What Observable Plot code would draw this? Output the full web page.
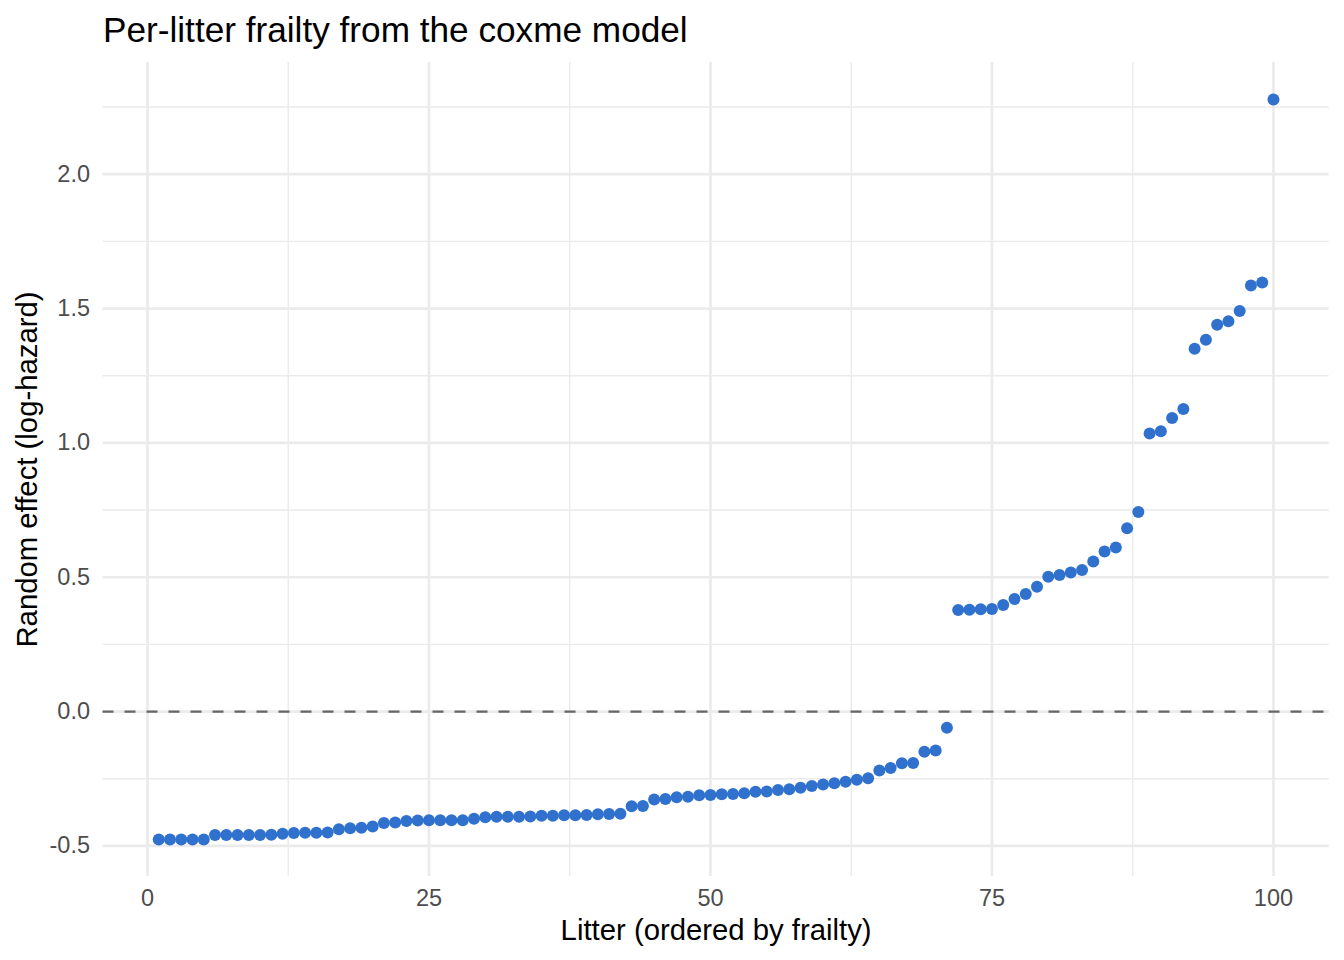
<!DOCTYPE html>
<html>
<head>
<meta charset="utf-8">
<script src="https://cdn.jsdelivr.net/npm/d3@7"></script>
<script src="https://cdn.jsdelivr.net/npm/@observablehq/plot@0.6"></script>
<style>
  html, body { margin: 0; padding: 0; background: #ffffff; }
  #chart svg { display: block; }
</style>
</head>
<body>
<div id="chart"></div>
<script>
// Estimated litter random effects (log-hazard), sorted ascending; rank = position + 1
const frailty = [
  -0.476, -0.476, -0.476, -0.476, -0.476, -0.459, -0.459, -0.459, -0.459, -0.459,
  -0.458, -0.455, -0.452, -0.451, -0.451, -0.450, -0.438, -0.434, -0.432, -0.428,
  -0.415, -0.413, -0.407, -0.405, -0.404, -0.404, -0.404, -0.404, -0.399, -0.393,
  -0.391, -0.391, -0.391, -0.390, -0.388, -0.388, -0.386, -0.386, -0.385, -0.382,
  -0.381, -0.380, -0.352, -0.351, -0.327, -0.325, -0.319, -0.317, -0.311, -0.310,
  -0.308, -0.307, -0.304, -0.298, -0.297, -0.292, -0.289, -0.283, -0.277, -0.271,
  -0.267, -0.261, -0.254, -0.248, -0.219, -0.210, -0.192, -0.191, -0.149, -0.145,
  -0.060,  0.378,  0.379,  0.381,  0.382,  0.397,  0.419,  0.438,  0.465,  0.502,
   0.508,  0.518,  0.527,  0.559,  0.596,  0.611,  0.682,  0.743,  1.035,  1.043,
   1.093,  1.126,  1.350,  1.384,  1.440,  1.453,  1.491,  1.586,  1.597,  2.278
];

const xMajor = [0, 25, 50, 75, 100];
const xMinor = [12.5, 37.5, 62.5, 87.5];
const yMajor = [-0.5, 0, 0.5, 1, 1.5, 2];
const yMinor = [-0.25, 0.25, 0.75, 1.25, 1.75, 2.25];

const titleText = "Per-litter frailty from the coxme model";
const xTitle = "Litter (ordered by frailty)";
const yTitle = "Random effect (log-hazard)";

const rows = frailty.map((v, i) => ({rank: i + 1, value: v}));

// 5% padding on each side of the data range
const pad = ([a, b]) => [a - (b - a) * 0.05, b + (b - a) * 0.05];
const xDomain = pad(d3.extent(rows, d => d.rank));
const yDomain = pad(d3.extent(rows, d => d.value));

const font = "'Liberation Sans', Arial, Helvetica, sans-serif";
const gridColor = "#EBEBEB";

const chart = Plot.plot({
  width: 1344,
  height: 960,
  marginLeft: 102.5,
  marginRight: 15.3,
  marginTop: 62,
  marginBottom: 84,
  style: {fontFamily: font, background: "#ffffff", overflow: "visible"},
  x: {domain: xDomain},
  y: {domain: yDomain},
  marks: [
    Plot.gridX(xMinor, {stroke: gridColor, strokeOpacity: 1, strokeWidth: 1.4}),
    Plot.gridY(yMinor, {stroke: gridColor, strokeOpacity: 1, strokeWidth: 1.4}),
    Plot.gridX(xMajor, {stroke: gridColor, strokeOpacity: 1, strokeWidth: 2.7}),
    Plot.gridY(yMajor, {stroke: gridColor, strokeOpacity: 1, strokeWidth: 2.7}),
    Plot.ruleY([0], {stroke: "#666666", strokeWidth: 2.3, strokeDasharray: "11,11"}),
    Plot.dot(rows, {x: "rank", y: "value", r: 6, fill: "#3071CE", stroke: "none"}),
    Plot.axisX(xMajor, {
      tickSize: 0, tickPadding: 13, fontSize: 23.5, fill: "#4D4D4D",
      tickFormat: d => String(d), label: null
    }),
    Plot.axisY(yMajor, {
      tickSize: 0, tickPadding: 13, fontSize: 23.5, fill: "#4D4D4D",
      tickFormat: d => d.toFixed(1), label: null
    }),
    Plot.text([xTitle], {
      frameAnchor: "bottom", dy: 63, lineAnchor: "bottom", textAnchor: "middle",
      fontSize: 29.3, fill: "#000000"
    }),
    Plot.text([yTitle], {
      frameAnchor: "left", dx: -66.5, rotate: -90, lineAnchor: "bottom", textAnchor: "middle",
      fontSize: 29.3, fill: "#000000"
    }),
    Plot.text([titleText], {
      frameAnchor: "top-left", dy: -21, lineAnchor: "bottom", textAnchor: "start",
      fontSize: 35.2, fill: "#000000"
    })
  ]
});

document.getElementById("chart").appendChild(chart);
</script>
</body>
</html>
